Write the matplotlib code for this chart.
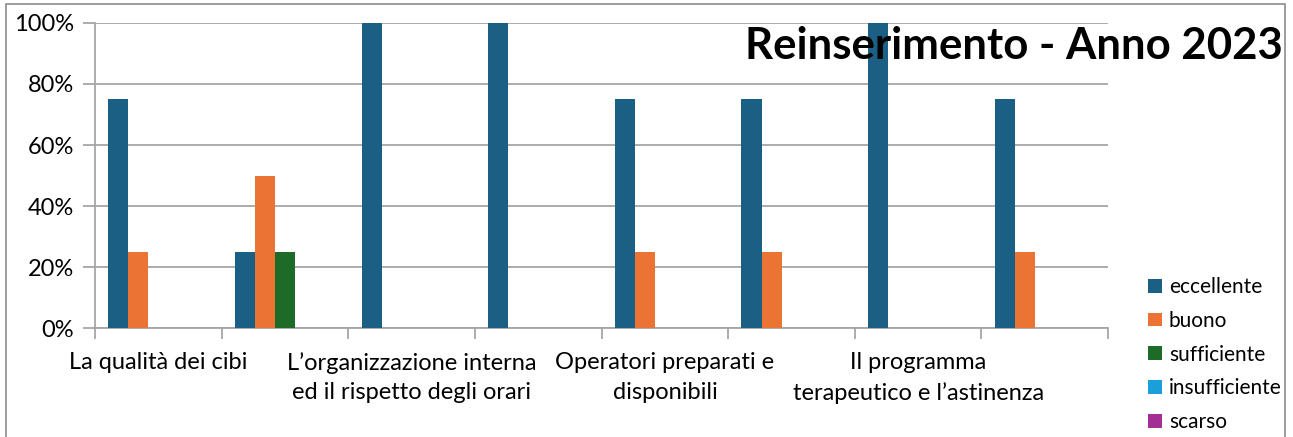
import numpy as np
import matplotlib
matplotlib.use("Agg")
import matplotlib.pyplot as plt
from matplotlib.patches import Rectangle
from matplotlib.ticker import FixedLocator, PercentFormatter

# Categories (only every other label is shown in the original chart)
categories = [
    "La qualità dei cibi",
    "",
    "L\u2019organizzazione interna\ned il rispetto degli orari",
    "",
    "Operatori preparati e\ndisponibili",
    "",
    "Il programma\nterapeutico e l\u2019astinenza",
    "",
]
series_names = ["eccellente", "buono", "sufficiente", "insufficiente", "scarso"]
eccellente = [75, 25, 100, 100, 75, 75, 100, 75]
buono = [25, 50, 0, 0, 25, 25, 0, 25]
sufficiente = [0, 25, 0, 0, 0, 0, 0, 0]
insufficiente = [0, 0, 0, 0, 0, 0, 0, 0]
scarso = [0, 0, 0, 0, 0, 0, 0, 0]
colors = ["#1B5F84", "#EB7434", "#1E6B27", "#1A9FDA", "#A22F96"]

plt.rcParams["font.family"] = ["Lato", "DejaVu Sans"]

fig = plt.figure(figsize=(12.93, 4.37), dpi=100)
fig.patch.set_facecolor("white")
ax = fig.add_axes([0.0735, 0.2483, 0.7835, 0.6997])

x = np.arange(len(categories))
w = 0.158
all_series = [eccellente, buono, sufficiente, insufficiente, scarso]
for i, (name, vals) in enumerate(zip(series_names, all_series)):
    ax.bar(x + (i - 2) * w, vals, width=w, color=colors[i], label=name, zorder=3)

ax.set_xlim(-0.5, len(categories) - 0.5)
ax.set_ylim(0, 100)
ax.set_yticks(np.arange(0, 101, 20))
ax.yaxis.set_major_formatter(PercentFormatter(decimals=0))
ax.grid(axis="y", color="#A6A6A6", linewidth=1.3, zorder=0)

# category boundaries as major ticks, names as minor ticks
ax.xaxis.set_major_locator(FixedLocator(np.arange(-0.5, len(categories), 1.0)))
ax.xaxis.set_minor_locator(FixedLocator(x))
ax.set_xticklabels([])
ax.set_xticklabels(categories, minor=True, linespacing=1.5)
ax.tick_params(axis="x", which="major", length=8, width=1.3, color="#A6A6A6")
ax.tick_params(axis="x", which="minor", length=0, pad=17, labelsize=17)
ax.tick_params(axis="y", length=9, width=1.3, color="#A6A6A6", labelsize=17, pad=6)

for side in ["top", "right"]:
    ax.spines[side].set_visible(False)
for side in ["left", "bottom"]:
    ax.spines[side].set_color("#A6A6A6")
    ax.spines[side].set_linewidth(1.3)
ax.set_axisbelow(True)

fig.text(1283 / 1293, 1 - 46 / 437, "Reinserimento - Anno 2023",
         ha="right", va="center", fontsize=31.5, fontweight="bold", zorder=5)

leg = fig.legend(loc="upper left", bbox_to_anchor=(0.8815, 0.385), frameon=False,
                 fontsize=15, handlelength=0.65, handleheight=0.65,
                 handletextpad=0.35, labelspacing=0.66, borderaxespad=0)

# outer chart border (cropped at bottom in the original)
fig.add_artist(Rectangle((6 / 1293, -0.2), (1285 - 6) / 1293, 1.2 - 4 / 437,
                         transform=fig.transFigure, fill=False,
                         edgecolor="#8C8C8C", linewidth=1.2, clip_on=False))

fig.savefig("out.png", dpi=100, facecolor="white")
